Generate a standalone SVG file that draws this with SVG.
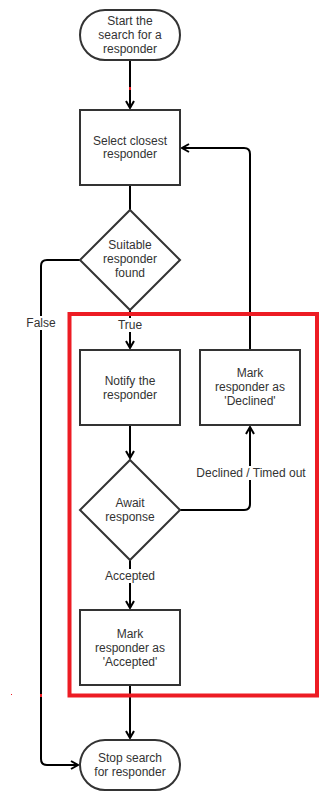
<svg xmlns="http://www.w3.org/2000/svg" width="328" height="810" viewBox="0 0 328 810">
  <style>
    .shape { fill: #ffffff; stroke: #333333; stroke-width: 2; }
    .label { font-family: "Liberation Sans", Arial, sans-serif; font-size: 12px; fill: #333333; text-anchor: middle; }
    .edge { fill: none; stroke: #000000; stroke-width: 2; }
    .edge-label { font-family: "Liberation Sans", Arial, sans-serif; font-size: 12px; fill: #333333; text-anchor: middle; }
    .bg { fill: #ffffff; }
  </style>
  <defs>
    <marker id="open-arrow" markerWidth="10" markerHeight="10" refX="8" refY="5" orient="auto" markerUnits="userSpaceOnUse">
      <path d="M1,1 L8,5 L1,9" fill="none" stroke="#000000" stroke-width="2"/>
    </marker>
  </defs>

  <rect width="328" height="810" fill="#ffffff"/>

  <!-- connectors -->
  <g id="connectors">
    <path class="edge" d="M130,60 V108" marker-end="url(#open-arrow)"/>
    <path class="edge" d="M130,185 V210"/>
    <path class="edge" d="M130,310 V348" marker-end="url(#open-arrow)"/>
    <path class="edge" d="M80,260 H47 Q41,260 41,266 V759 Q41,765 47,765 H78" marker-end="url(#open-arrow)"/>
    <path class="edge" d="M130,425 V458" marker-end="url(#open-arrow)"/>
    <path class="edge" d="M180,510 H244 Q250,510 250,504 V427" marker-end="url(#open-arrow)"/>
    <path class="edge" d="M250,350 V154 Q250,148 244,148 H182" marker-end="url(#open-arrow)"/>
    <path class="edge" d="M130,560 V608" marker-end="url(#open-arrow)"/>
    <path class="edge" d="M130,685 V738" marker-end="url(#open-arrow)"/>

    <!-- edge labels -->
    <rect class="bg" x="115" y="318" width="30" height="14"/>
    <text class="edge-label" x="130" y="329">True</text>
    <rect class="bg" x="26" y="316" width="30" height="14"/>
    <text class="edge-label" x="41" y="327">False</text>
    <rect class="bg" x="194" y="466" width="114" height="14"/>
    <text class="edge-label" x="251" y="477">Declined / Timed out</text>
    <rect class="bg" x="104" y="569" width="52" height="14"/>
    <text class="edge-label" x="130" y="580">Accepted</text>
  </g>

  <!-- nodes -->
  <g id="start">
    <rect class="shape" x="80" y="10" width="100" height="50" rx="25" ry="25"/>
    <text class="label" x="130" y="25">Start the</text>
    <text class="label" x="130" y="39">search for a</text>
    <text class="label" x="130" y="53">responder</text>
  </g>

  <g id="select-closest">
    <rect class="shape" x="80" y="110" width="100" height="75"/>
    <text class="label" x="130" y="145">Select closest</text>
    <text class="label" x="130" y="158">responder</text>
  </g>

  <g id="suitable-found">
    <polygon class="shape" points="130,210 180,260 130,310 80,260"/>
    <text class="label" x="130" y="249">Suitable</text>
    <text class="label" x="130" y="263">responder</text>
    <text class="label" x="130" y="277">found</text>
  </g>

  <g id="notify">
    <rect class="shape" x="80" y="350" width="100" height="75"/>
    <text class="label" x="130" y="385">Notify the</text>
    <text class="label" x="130" y="399">responder</text>
  </g>

  <g id="mark-declined">
    <rect class="shape" x="200" y="350" width="100" height="75"/>
    <text class="label" x="250" y="377">Mark</text>
    <text class="label" x="250" y="391">responder as</text>
    <text class="label" x="250" y="405">'Declined'</text>
  </g>

  <g id="await-response">
    <polygon class="shape" points="130,460 180,510 130,560 80,510"/>
    <text class="label" x="130" y="507">Await</text>
    <text class="label" x="130" y="521">response</text>
  </g>

  <g id="mark-accepted">
    <rect class="shape" x="80" y="610" width="100" height="75"/>
    <text class="label" x="130" y="638">Mark</text>
    <text class="label" x="130" y="652">responder as</text>
    <text class="label" x="130" y="666">'Accepted'</text>
  </g>

  <g id="stop">
    <rect class="shape" x="80" y="740" width="100" height="50" rx="25" ry="25"/>
    <text class="label" x="130" y="762">Stop search</text>
    <text class="label" x="130" y="776">for responder</text>
  </g>

  <!-- highlight frame around the response loop -->
  <g id="highlight">
    <rect x="69.5" y="314" width="247.5" height="381.5" fill="none" stroke="#ED1C24" stroke-width="4"/>
    <rect x="129" y="87" width="2" height="3" fill="#ED1C24"/>
    <rect x="40" y="694" width="2" height="3" fill="#ED1C24"/>
    <rect x="11" y="694" width="1" height="1" fill="#ED1C24"/>
  </g>
</svg>
